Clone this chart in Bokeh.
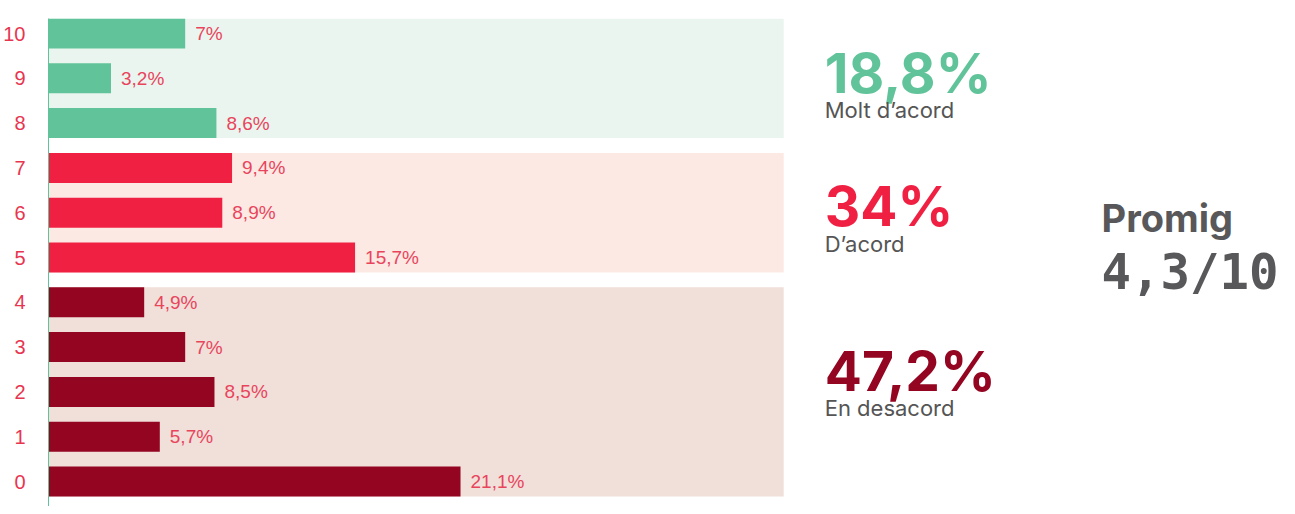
from bokeh.plotting import figure
from bokeh.models import Range1d, FixedTicker, ColumnDataSource
from bokeh.embed import file_html
from bokeh.resources import INLINE
from bokeh.core.properties import value

# ---- data ----
scores = [10, 9, 8, 7, 6, 5, 4, 3, 2, 1, 0]
percents = [7.0, 3.2, 8.6, 9.4, 8.9, 15.7, 4.9, 7.0, 8.5, 5.7, 21.1]
value_labels = ["7%", "3,2%", "8,6%", "9,4%", "8,9%", "15,7%", "4,9%", "7%", "8,5%", "5,7%", "21,1%"]
groups = ["Molt d’acord", "D’acord", "En desacord"]
group_ranges = [(8, 10), (5, 7), (0, 4)]
group_bar_colors = ["#61c399", "#f02043", "#930520"]
group_band_colors = ["#ebf5ef", "#fde9e4", "#f1dfda"]
avg_label = "Promig"

def fmt(v):
    s = f"{v:.1f}".rstrip("0").rstrip(".")
    return s.replace(".", ",")

def group_of(s):
    for i, (lo, hi) in enumerate(group_ranges):
        if lo <= s <= hi:
            return i
    return 0

bar_colors = [group_bar_colors[group_of(s)] for s in scores]
src = ColumnDataSource(dict(y=scores, x=percents, lab=value_labels, color=bar_colors))

p = figure(width=1286, height=506, output_backend="svg", toolbar_location=None,
           x_range=Range1d(0, 63.4), y_range=Range1d(-0.558, 10.335),
           min_border_left=39, min_border_right=0, min_border_top=18, min_border_bottom=0)
p.outline_line_color = None
p.xgrid.visible = False
p.ygrid.visible = False
p.xaxis.visible = False
p.background_fill_color = "white"
p.border_fill_color = "white"

# background bands
band_right = 37.65
for (lo, hi), bc in zip(group_ranges, group_band_colors):
    p.quad(left=0, right=band_right, bottom=lo - 0.335, top=hi + 0.335,
           fill_color=bc, line_color=None)

p.hbar(y="y", right="x", left=0, height=0.67, source=src, fill_color="color", line_color=None)
p.text(x="x", y="y", text="lab", source=src, x_offset=10, text_baseline="middle",
       text_align="left", text_font=value("Liberation Sans"), text_font_size="19px",
       text_color="#e8455d")

yax = p.yaxis[0]
yax.ticker = FixedTicker(ticks=scores)
yax.axis_line_color = "#61c399"
yax.axis_line_width = 1
yax.major_tick_line_color = None
yax.minor_tick_line_color = None
yax.major_label_standoff = 17
yax.major_label_text_color = "#e8354f"
yax.major_label_text_font = "Liberation Sans"
yax.major_label_text_font_size = "20px"

# group summaries
big_pos = [(9.12, 8.30), (6.14, 5.31), (2.46, 1.63)]
tx = 39.75
for i, (lo, hi) in enumerate(group_ranges):
    total = sum(pc for s, pc in zip(scores, percents) if lo <= s <= hi)
    yb, ys = big_pos[i]
    p.text(x=[tx], y=[yb], text=[fmt(total) + "%"], text_font=value("Inter"),
           text_font_style="bold", text_font_size="55px",
           text_color=group_bar_colors[i], text_baseline="middle", text_align="left")
    p.text(x=[tx], y=[ys], text=[groups[i]], text_font=value("Inter"),
           text_font_size="22px", text_color="#555555",
           text_baseline="middle", text_align="left")

avg = sum(s * pc for s, pc in zip(scores, percents)) / sum(percents)
ax = 53.93
p.text(x=[ax], y=[5.88], text=[avg_label], text_font=value("Inter"),
       text_font_style="bold", text_font_size="38px",
       text_color="#58585a", text_baseline="middle", text_align="left")
p.text(x=[ax], y=[4.67], text=[fmt(round(avg, 1)) + "/10"], text_font=value("DejaVu Sans Mono"),
       text_font_style="bold", text_font_size="49px",
       text_color="#58585a", text_baseline="middle", text_align="left")

open("out.html", "w").write(file_html(p, INLINE))
